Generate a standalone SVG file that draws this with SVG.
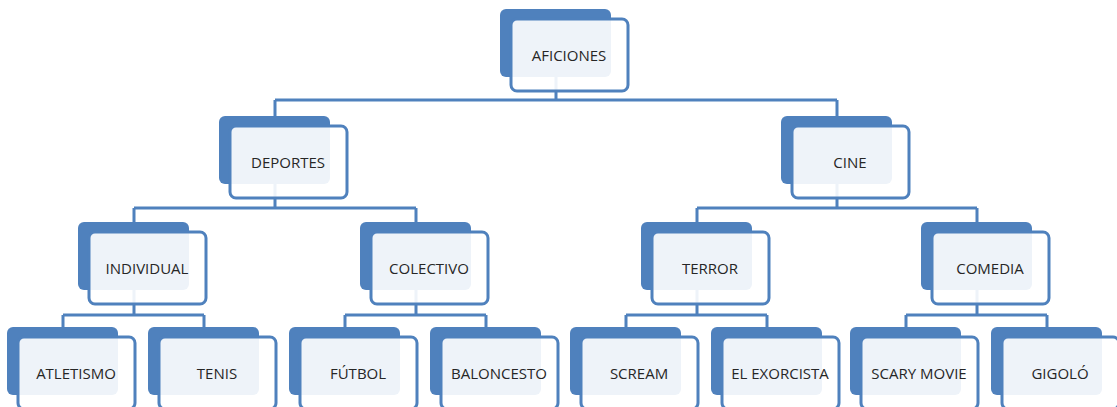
<svg xmlns="http://www.w3.org/2000/svg" width="1117" height="407" viewBox="0 0 1117 407">
  <style>
    .bg { fill: #ffffff; }
    .wire { fill: none; stroke: #4f81bd; stroke-width: 3; }
    .back { fill: #4f81bd; }
    .front { fill: #ffffff; fill-opacity: 0.9; stroke: #4f81bd; stroke-width: 3; }
    .label { font-family: "Open Sans", "Liberation Sans", sans-serif; font-size: 15px; fill: #262626; text-anchor: middle; dominant-baseline: central; }
  </style>
  <defs>
    <!-- one card: solid back plate plus translucent outlined front plate -->
    <g id="card">
      <rect class="back" x="-56" y="0" width="111" height="68" rx="6"/>
      <rect class="front" x="-45" y="10" width="117" height="72" rx="6"/>
    </g>
  </defs>
  <rect class="bg" width="1117" height="407"/>

  <g id="connectors">
    <!-- root to level 1 -->
    <path class="wire" d="M556 40 V100 M275 100 H837 M275 100 V117 M837 100 V117"/>
    <!-- level 1 to level 2 -->
    <path class="wire" d="M275 150 V208 M134 208 H416 M134 208 V223 M416 208 V223"/>
    <path class="wire" d="M837 150 V208 M697 208 H977 M697 208 V223 M977 208 V223"/>
    <!-- level 2 to leaves -->
    <path class="wire" d="M134 256 V315 M63 315 H204 M63 315 V328 M204 315 V328"/>
    <path class="wire" d="M416 256 V315 M345 315 H486 M345 315 V328 M486 315 V328"/>
    <path class="wire" d="M697 256 V315 M626 315 H767 M626 315 V328 M767 315 V328"/>
    <path class="wire" d="M977 256 V315 M906 315 H1047 M906 315 V328 M1047 315 V328"/>
  </g>

  <g id="aficiones" transform="translate(556,9)"><use href="#card"/><text class="label" x="13" y="46">AFICIONES</text></g>

  <g id="deportes" transform="translate(275,116)"><use href="#card"/><text class="label" x="13" y="46">DEPORTES</text></g>
  <g id="cine" transform="translate(837,116)"><use href="#card"/><text class="label" x="13" y="46">CINE</text></g>

  <g id="individual" transform="translate(134,222)"><use href="#card"/><text class="label" x="13" y="46">INDIVIDUAL</text></g>
  <g id="colectivo" transform="translate(416,222)"><use href="#card"/><text class="label" x="13" y="46">COLECTIVO</text></g>
  <g id="terror" transform="translate(697,222)"><use href="#card"/><text class="label" x="13" y="46">TERROR</text></g>
  <g id="comedia" transform="translate(977,222)"><use href="#card"/><text class="label" x="13" y="46">COMEDIA</text></g>

  <g id="atletismo" transform="translate(63,327)"><use href="#card"/><text class="label" x="13" y="46">ATLETISMO</text></g>
  <g id="tenis" transform="translate(204,327)"><use href="#card"/><text class="label" x="13" y="46">TENIS</text></g>
  <g id="futbol" transform="translate(345,327)"><use href="#card"/><text class="label" x="13" y="46">FÚTBOL</text></g>
  <g id="baloncesto" transform="translate(486,327)"><use href="#card"/><text class="label" x="13" y="46">BALONCESTO</text></g>
  <g id="scream" transform="translate(626,327)"><use href="#card"/><text class="label" x="13" y="46">SCREAM</text></g>
  <g id="el-exorcista" transform="translate(767,327)"><use href="#card"/><text class="label" x="13" y="46">EL EXORCISTA</text></g>
  <g id="scary-movie" transform="translate(906,327)"><use href="#card"/><text class="label" x="13" y="46">SCARY MOVIE</text></g>
  <g id="gigolo" transform="translate(1047,327)"><use href="#card"/><text class="label" x="13" y="46">GIGOLÓ</text></g>
</svg>
